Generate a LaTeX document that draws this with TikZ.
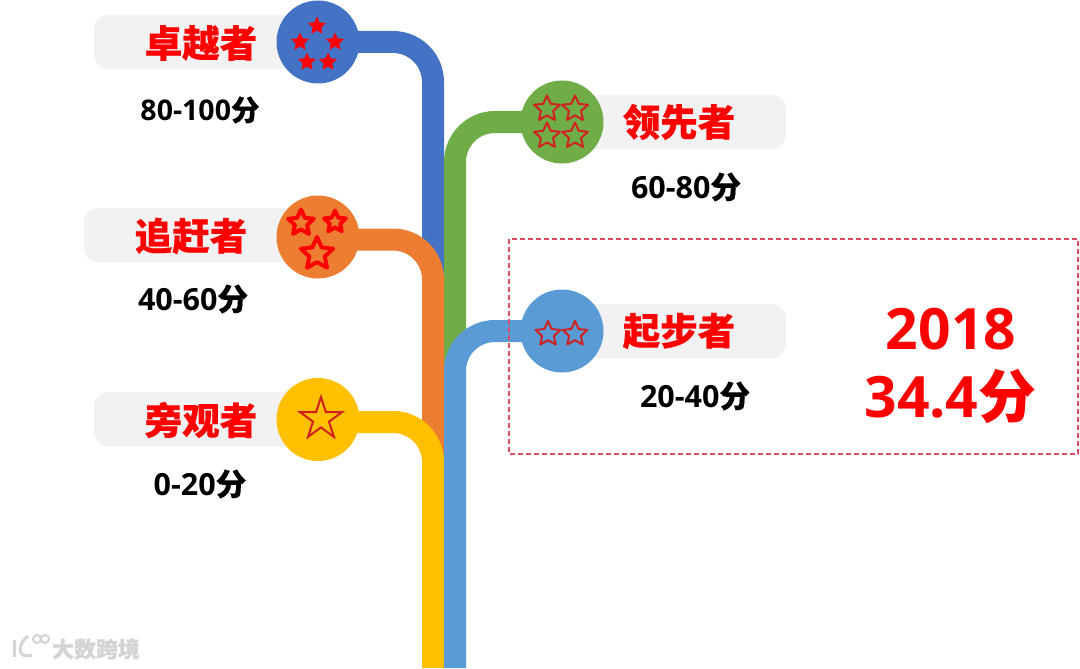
\documentclass[tikz,border=0pt]{standalone}
\usepackage{fontspec}
\setmainfont{Open Sans}[BoldFont={Open Sans Bold}]
\newfontfamily\cjk{Noto Sans CJK SC}[BoldFeatures={FakeBold=.4}]
\usetikzlibrary{backgrounds,shapes.geometric}
\definecolor{cblue}{HTML}{4472C4}
\definecolor{cgreen}{HTML}{70AD47}
\definecolor{corange}{HTML}{ED7D31}
\definecolor{cyellow}{HTML}{FFC000}
\definecolor{csky}{HTML}{5B9BD5}
\definecolor{cpill}{HTML}{F2F2F2}
\definecolor{cstar}{HTML}{D02020}
\definecolor{cdash}{HTML}{E04A60}
\definecolor{cmark}{HTML}{D4D4D4}
\tikzstyle{dot}      = [circle, minimum size=83pt, inner sep=0pt]
\tikzstyle{pillbox}  = [fill=cpill, rounded corners=14pt, minimum height=54pt, inner sep=0pt]
\tikzstyle{branch}   = [line width=22pt, rounded corners=40pt]
\tikzstyle{rank}     = [red, font=\cjk\bfseries\fontsize{37.5}{40}\selectfont]
\tikzstyle{score}    = [black, font=\bfseries\fontsize{30.5}{34}\selectfont]
\tikzstyle{smallscore} = [black, font=\bfseries\fontsize{28.5}{32}\selectfont]
\tikzstyle{big}      = [red, font=\bfseries\fontsize{57}{60}\selectfont]
\tikzstyle{starbase} = [star, star points=5, star point ratio=2.1, inner sep=0pt, line join=round]
\tikzstyle{scorebox} = [draw=cdash, line width=1.2pt, dash pattern=on 5pt off 3pt]
\begin{document}
\begin{tikzpicture}[x=1pt,y=-1pt]
      \useasboundingbox (0,0) rectangle (1080,669);
      \node[pillbox, minimum width=206pt] (toppill)    at (197,42 ) {};
      \node[pillbox, minimum width=216pt] (chasepill)  at (192,235) {};
      \node[pillbox, minimum width=206pt] (watchpill)  at (197,419) {};
      \node[pillbox, minimum width=224pt] (leadpill)   at (674,122) {};
      \node[pillbox, minimum width=224pt] (startpill)  at (674,331) {};
      \node[dot, fill=cblue]   (topdot)   at (318,42 ) {};
      \node[dot, fill=corange] (chasedot) at (318,237) {};
      \node[dot, fill=cyellow] (watchdot) at (318,419.5) {};
      \node[dot, fill=cgreen]  (leaddot)  at (562,122) {};
      \node[dot, fill=csky]    (startdot) at (562,331) {};
      \node[rank] (toptext)   at (201,43 ) {卓越者};
      \node[rank] (chasetext) at (191,236) {追赶者};
      \node[rank] (watchtext) at (201,420) {旁观者};
      \node[rank] (leadtext)  at (679,122) {领先者};
      \node[rank] (starttext) at (679,331) {起步者};
      \node[smallscore] (topscore) at (200,110) {80-100{\cjk\bfseries 分}};
      \node[score] (chasescore) at (193,299) {40-60{\cjk\bfseries 分}};
      \node[score] (watchscore) at (200,484) {0-20{\cjk\bfseries 分}};
      \node[score] (leadscore)  at (686,187) {60-80{\cjk\bfseries 分}};
      \node[score] (startscore) at (695,396) {20-40{\cjk\bfseries 分}};
      \node[big] (yeartext)  at (951,329) {2018};
      \node[big] (valuetext) at (950,396) {34.4{\cjk\bfseries 分}};
      \foreach \px/\py [count=\i] in {317/26,300/42,335/42,307/62,328/62}
        \node[starbase, fill=red, minimum size=19pt] (topstar\i) at (\px,\py) {};
      \foreach \px/\py/\ps [count=\i] in {301/223/27,335/222/23,317/254/34}
        \node[starbase, draw=red, line width=4pt, minimum size=\ps pt] (chasestar\i) at (\px,\py) {};
      \foreach \px/\py [count=\i] in {547/109,575/109,547/136,575/136}
        \node[starbase, draw=cstar, line width=2pt, minimum size=27pt] (leadstar\i) at (\px,\py) {};
      \foreach \px/\py [count=\i] in {548/334,575/334}
        \node[starbase, draw=cstar, line width=2pt, minimum size=26pt] (startstar\i) at (\px,\py) {};
      \node[star, star points=5, star point ratio=2.618, inner sep=0pt, draw=cstar, line width=2pt, minimum size=44pt] (watchstar) at (321,419) {};
      \coordinate (topbend)   at (433,42 );
      \coordinate (topend)    at (433,290);
      \coordinate (leadbend)  at (455,122);
      \coordinate (leadend)   at (455,365);
      \coordinate (chasebend) at (433,239.5);
      \coordinate (chaseend)  at (433,480);
      \coordinate (watchbend) at (433,422);
      \coordinate (watchend)  at (433,668);
      \coordinate (startbend) at (455,331);
      \coordinate (startend)  at (455,668);
      \begin{scope}[on background layer]
      \draw[branch, cblue]   (topdot.center) -- (topbend) -- (topend);
      \draw[branch, cgreen]  (leaddot.center) -- (leadbend) -- (leadend);
      \draw[branch, corange] (chasedot.center |- chasebend) -- (chasebend) -- (chaseend);
      \draw[branch, cyellow] (watchdot.center |- watchbend) -- (watchbend) -- (watchend);
      \draw[branch, csky]    (startdot.center) -- (startbend) -- (startend);
      \end{scope}
      \draw[scorebox] (509,239) rectangle (1078,454);
      \node[cmark, font=\cjk\bfseries\fontsize{22}{24}\selectfont] (marktext) at (96,649) {大数跨境};
      \draw[cmark, line width=3pt] (14,640) -- (14,657);
      \draw[cmark, line width=3pt] (28,636) .. controls (17,644) and (17,660) .. (32,655);
      \draw[cmark, line width=2pt] (37,639) circle (4);
      \draw[cmark, line width=2pt] (45,639) circle (4);
\end{tikzpicture}
\end{document}
